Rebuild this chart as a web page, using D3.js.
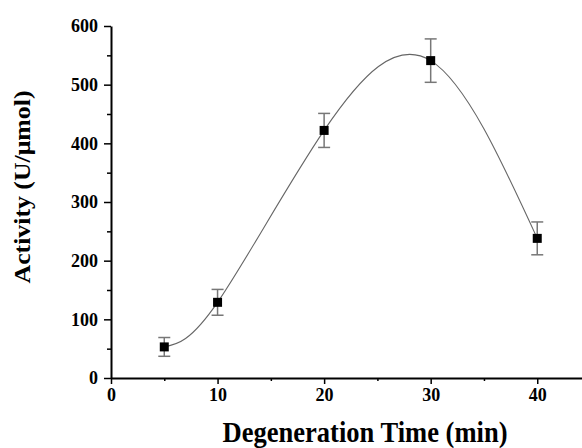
<html lang="en">
<head>
<meta charset="utf-8">
<script src="https://d3js.org/d3.v7.min.js"></script>
<style>
  body { margin: 0; background: #fff; }
  text { font-family: "Liberation Serif", "Times New Roman", serif; font-weight: bold; fill: #000; }
</style>
</head>
<body>
<svg id="chart" width="582" height="448"></svg>
<script>
// data
const times = [5, 10, 20, 30, 40];
const activity = [53, 129, 422, 541, 238];
const errors = [16, 22, 29, 37, 28];
const xTicks = [0, 10, 20, 30, 40];
const yTicks = [0, 100, 200, 300, 400, 500, 600];

const svg = d3.select("#chart");

const x = d3.scaleLinear().domain([0, 44.2]).range([111, 582]);
const y = d3.scaleLinear().domain([0, 600]).range([378, 26]);

// fitted curve through the means
const line = d3.line()
    .x(d => x(d[0]))
    .y(d => y(d[1]))
    .curve(d3.curveNatural);

svg.append("path")
    .datum(times.map((t, i) => [t, activity[i]]))
    .attr("d", line)
    .attr("fill", "none")
    .attr("stroke", "#666")
    .attr("stroke-width", 1.1);

// error bars
const eb = svg.append("g").attr("stroke", "#777").attr("stroke-width", 1.5);
times.forEach((t, i) => {
    const cx = x(t);
    eb.append("line").attr("x1", cx).attr("x2", cx)
        .attr("y1", y(activity[i] - errors[i])).attr("y2", y(activity[i] + errors[i]));
    [activity[i] - errors[i], activity[i] + errors[i]].forEach(v => {
        eb.append("line").attr("x1", cx - 6).attr("x2", cx + 6)
            .attr("y1", y(v)).attr("y2", y(v));
    });
});

// markers
svg.append("g").selectAll("rect")
    .data(times)
    .join("rect")
    .attr("x", (d) => x(d) - 4.5)
    .attr("y", (d, i) => y(activity[i]) - 4.5)
    .attr("width", 9)
    .attr("height", 9)
    .attr("fill", "#000");

// axes
const xAxis = svg.append("g").attr("transform", "translate(0,378)");
xAxis.call(d3.axisBottom(x).tickValues(xTicks).tickSize(6).tickFormat(d3.format("d")).tickSizeOuter(0));
xAxis.append("g").call(d3.axisBottom(x).tickValues([5, 15, 25, 35]).tickSize(3).tickFormat("").tickSizeOuter(0))
    .select(".domain").remove();

const yAxis = svg.append("g").attr("transform", "translate(111,0)");
yAxis.call(d3.axisLeft(y).tickValues(yTicks).tickSize(7).tickFormat(d3.format("d")).tickSizeOuter(0));
yAxis.append("g").call(d3.axisLeft(y).tickValues([50, 150, 250, 350, 450, 550]).tickSize(4).tickFormat("").tickSizeOuter(0))
    .select(".domain").remove();

svg.selectAll(".domain").attr("stroke", "#000").attr("stroke-width", 2);
svg.selectAll(".tick line").attr("stroke", "#000").attr("stroke-width", 1.5);
svg.selectAll(".tick text")
    .style("font-family", "'Liberation Serif', serif")
    .style("font-weight", "bold")
    .style("font-size", "18px")
    .attr("fill", "#000");
xAxis.selectAll(".tick text").attr("y", 10);
yAxis.selectAll(".tick text").attr("x", -13);

// axis titles
svg.append("text")
    .attr("x", 365)
    .attr("y", 442)
    .attr("text-anchor", "middle")
    .attr("textLength", 285)
    .attr("lengthAdjust", "spacingAndGlyphs")
    .style("font-size", "29px")
    .text("Degeneration Time (min)");

svg.append("text")
    .attr("transform", "translate(30,187) rotate(-90)")
    .attr("text-anchor", "middle")
    .attr("textLength", 193)
    .attr("lengthAdjust", "spacingAndGlyphs")
    .style("font-size", "23px")
    .text("Activity (U/μmol)");
</script>
</body>
</html>
